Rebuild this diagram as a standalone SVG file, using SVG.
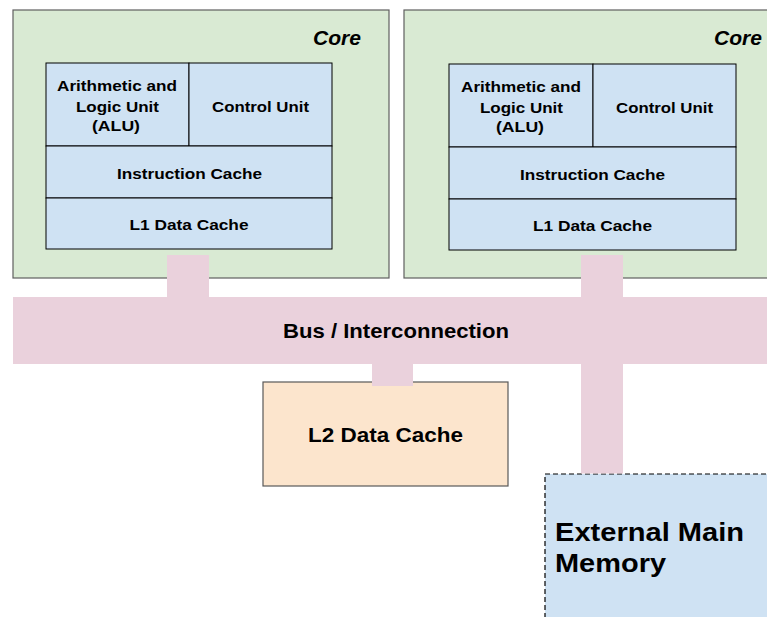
<svg xmlns="http://www.w3.org/2000/svg" width="767" height="617" viewBox="0 0 767 617">
<style>
.core{fill:#d9ead3;stroke:#5f5f5f;stroke-width:1.2}
.unit{fill:#cfe2f3;stroke:#000000;stroke-width:1}
.l2{fill:#fce5cd;stroke:#595959;stroke-width:1.2}
.mem{fill:#cfe2f3;stroke:#000000;stroke-width:1.2;stroke-dasharray:5,3}
.pink{fill:#ead1dc;stroke:none}
text{font-family:"Liberation Sans",Arial,sans-serif;font-weight:bold;fill:#000000}
.s{font-size:15.5px}
.m{font-size:20.5px}
.l{font-size:25.5px}
.c{font-size:19.5px;font-style:italic}
</style>
<rect width="767" height="617" fill="#ffffff"/>
<g id="core1">
<rect class="core" x="13" y="10" width="376" height="268"/>
<text class="c" x="313" y="45" textLength="48" lengthAdjust="spacingAndGlyphs">Core</text>
<g id="alu1">
<rect class="unit" x="46" y="63" width="143" height="83"/>
<text class="s" x="57" y="91" textLength="120" lengthAdjust="spacingAndGlyphs">Arithmetic and</text>
<text class="s" x="76" y="112" textLength="83" lengthAdjust="spacingAndGlyphs">Logic Unit</text>
<text class="s" x="92" y="131" textLength="48" lengthAdjust="spacingAndGlyphs">(ALU)</text>
</g>
<g id="cu1">
<rect class="unit" x="189" y="63" width="143" height="83"/>
<text class="s" x="212" y="112" textLength="97" lengthAdjust="spacingAndGlyphs">Control Unit</text>
</g>
<g id="ic1">
<rect class="unit" x="46" y="146" width="286" height="52"/>
<text class="s" x="117" y="179" textLength="145" lengthAdjust="spacingAndGlyphs">Instruction Cache</text>
</g>
<g id="l1c1">
<rect class="unit" x="46" y="198" width="286" height="51"/>
<text class="s" x="129.5" y="230" textLength="119" lengthAdjust="spacingAndGlyphs">L1 Data Cache</text>
</g>
</g>
<g id="core2">
<rect class="core" x="404" y="10" width="376" height="268"/>
<text class="c" x="714" y="45" textLength="48" lengthAdjust="spacingAndGlyphs">Core</text>
<g id="alu2">
<rect class="unit" x="449" y="64" width="144" height="83"/>
<text class="s" x="461" y="92" textLength="120" lengthAdjust="spacingAndGlyphs">Arithmetic and</text>
<text class="s" x="480" y="113" textLength="83" lengthAdjust="spacingAndGlyphs">Logic Unit</text>
<text class="s" x="496" y="132" textLength="48" lengthAdjust="spacingAndGlyphs">(ALU)</text>
</g>
<g id="cu2">
<rect class="unit" x="593" y="64" width="143" height="83"/>
<text class="s" x="616" y="113" textLength="97" lengthAdjust="spacingAndGlyphs">Control Unit</text>
</g>
<g id="ic2">
<rect class="unit" x="449" y="147" width="287" height="52"/>
<text class="s" x="520" y="180" textLength="145" lengthAdjust="spacingAndGlyphs">Instruction Cache</text>
</g>
<g id="l1c2">
<rect class="unit" x="449" y="199" width="287" height="51"/>
<text class="s" x="533" y="231" textLength="119" lengthAdjust="spacingAndGlyphs">L1 Data Cache</text>
</g>
</g>
<g id="l2cache">
<rect class="l2" x="263" y="382" width="245" height="104"/>
<text class="m" x="308" y="442" textLength="155" lengthAdjust="spacingAndGlyphs">L2 Data Cache</text>
</g>
<g id="memory">
<rect class="mem" x="545" y="474" width="240" height="160"/>
<text class="l" x="555" y="541" textLength="189" lengthAdjust="spacingAndGlyphs">External Main</text>
<text class="l" x="555" y="572" textLength="111" lengthAdjust="spacingAndGlyphs">Memory</text>
</g>
<g id="bus">
<rect class="pink" x="13" y="297" width="754" height="67"/>
<text class="m" x="283" y="338" textLength="226" lengthAdjust="spacingAndGlyphs">Bus / Interconnection</text>
</g>
<g id="connectors">
<rect class="pink" x="167" y="255" width="42" height="43"/>
<rect class="pink" x="581" y="255" width="42" height="43"/>
<rect class="pink" x="581" y="363" width="42" height="110.5"/>
<rect class="pink" x="372" y="363" width="41" height="23"/>
</g>
</svg>
